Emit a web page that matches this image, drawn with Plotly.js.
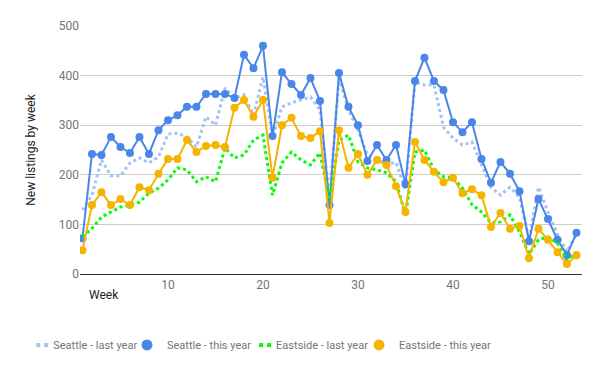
<!DOCTYPE html>
<html><head><meta charset="utf-8">
<script src="https://cdn.plot.ly/plotly-3.0.1.min.js"></script>
<style>html,body{margin:0;padding:0;background:#fff}#chart{width:600px;height:371px}</style>
</head><body><div id="chart"></div>
<script>
var weeks = [];
for (var i = 1; i <= 53; i++) weeks.push(i);
var seattleLast = [129,159,230,198,198,224,234,224,236,282,284,276,256,317,300,375,355,361,320,397,276,337,345,351,357,331,150,395,331,290,240,230,222,225,170,387,381,381,296,274,260,266,220,175,159,175,155,70,175,125,80,45,80];
var seattleThis = [72,242,240,276,256,244,276,242,290,310,320,337,337,363,363,363,355,442,415,460,278,407,383,361,395,349,139,405,337,300,228,260,230,260,181,389,436,389,371,306,286,306,232,184,226,202,167,66,151,111,69,38,83];
var eastLast = [75,92,115,125,135,139,145,163,173,190,214,210,186,196,186,254,234,240,270,280,159,224,246,230,220,244,150,270,280,226,214,210,204,186,119,246,250,210,196,194,173,140,125,103,105,119,85,40,69,75,62,28,44];
var eastThis = [48,139,165,139,151,139,175,169,202,232,232,270,246,258,260,256,335,351,317,351,194,300,315,278,274,288,103,290,214,242,200,230,220,177,125,266,230,206,185,194,163,171,159,95,123,91,97,32,91,69,44,20,38];
var names = ["Seattle - last year","Seattle - this year","Eastside - last year","Eastside - this year"];
var tickVals = [10,20,30,40,50];
var yTicks = [0,100,200,300,400,500];

var colors = ['#a4c2f4', '#4a86e8', '#00ff00', '#f4b400'];
var legDash = '0px,18px,4px,4px,4px,10px';
var data = [
 {x: weeks, y: seattleLast, name: names[0], mode: 'lines', line: {color: colors[0], width: 3, dash: 'dot'}, showlegend: false},
 {x: weeks, y: seattleThis, name: names[1], mode: 'lines+markers', line: {color: colors[1], width: 2}, marker: {size: 8, color: colors[1]}, showlegend: false},
 {x: weeks, y: eastLast, name: names[2], mode: 'lines', line: {color: colors[2], width: 3, dash: 'dot'}, showlegend: false},
 {x: weeks, y: eastThis, name: names[3], mode: 'lines+markers', line: {color: colors[3], width: 2}, marker: {size: 8, color: colors[3]}, showlegend: false},
 // legend entries
 {x: [null], y: [null], name: names[0], mode: 'lines', line: {color: colors[0], width: 4, dash: legDash}, legend: 'legend'},
 {x: [null], y: [null], name: names[1], mode: 'markers', marker: {size: 11, color: colors[1]}, legend: 'legend2'},
 {x: [null], y: [null], name: names[2], mode: 'lines', line: {color: colors[2], width: 4, dash: legDash}, legend: 'legend3'},
 {x: [null], y: [null], name: names[3], mode: 'markers', marker: {size: 11, color: colors[3]}, legend: 'legend4'}
];
function leg(x) {
  return {orientation: 'h', x: x, xanchor: 'left', y: -0.286, yanchor: 'middle', itemwidth: 30, bgcolor: 'rgba(0,0,0,0)', font: {size: 11, color: '#757575'}};
}
var layout = {
 width: 600, height: 371,
 margin: {l: 80, r: 18, t: 26, b: 97, autoexpand: false},
 paper_bgcolor: '#fff', plot_bgcolor: '#fff',
 font: {family: 'Roboto, Arial, sans-serif', size: 12, color: '#757575'},
 showlegend: true,
 legend: leg(-0.133), legend2: leg(0.0936), legend3: leg(0.311), legend4: leg(0.5558),
 xaxis: {range: [0.74, 53.58], tickvals: tickVals, showgrid: false, zeroline: false, showline: true, linecolor: '#333', linewidth: 1, ticks: '', tickfont: {size: 12, color: '#757575'}},
 yaxis: {range: [0, 500], tickvals: yTicks, showgrid: true, gridcolor: '#cccccc', zeroline: false, ticks: '', ticklen: 0, tickfont: {size: 12, color: '#757575'},
   title: {text: 'New listings by week', font: {size: 12, color: '#222'}, standoff: 20}},
 annotations: [{xref: 'paper', yref: 'paper', x: 0.013, y: -0.085, xanchor: 'left', yanchor: 'middle', text: 'Week', showarrow: false, font: {size: 12, color: '#222'}}]
};
Plotly.newPlot('chart', data, layout, {displayModeBar: false, staticPlot: true});
</script></body></html>
